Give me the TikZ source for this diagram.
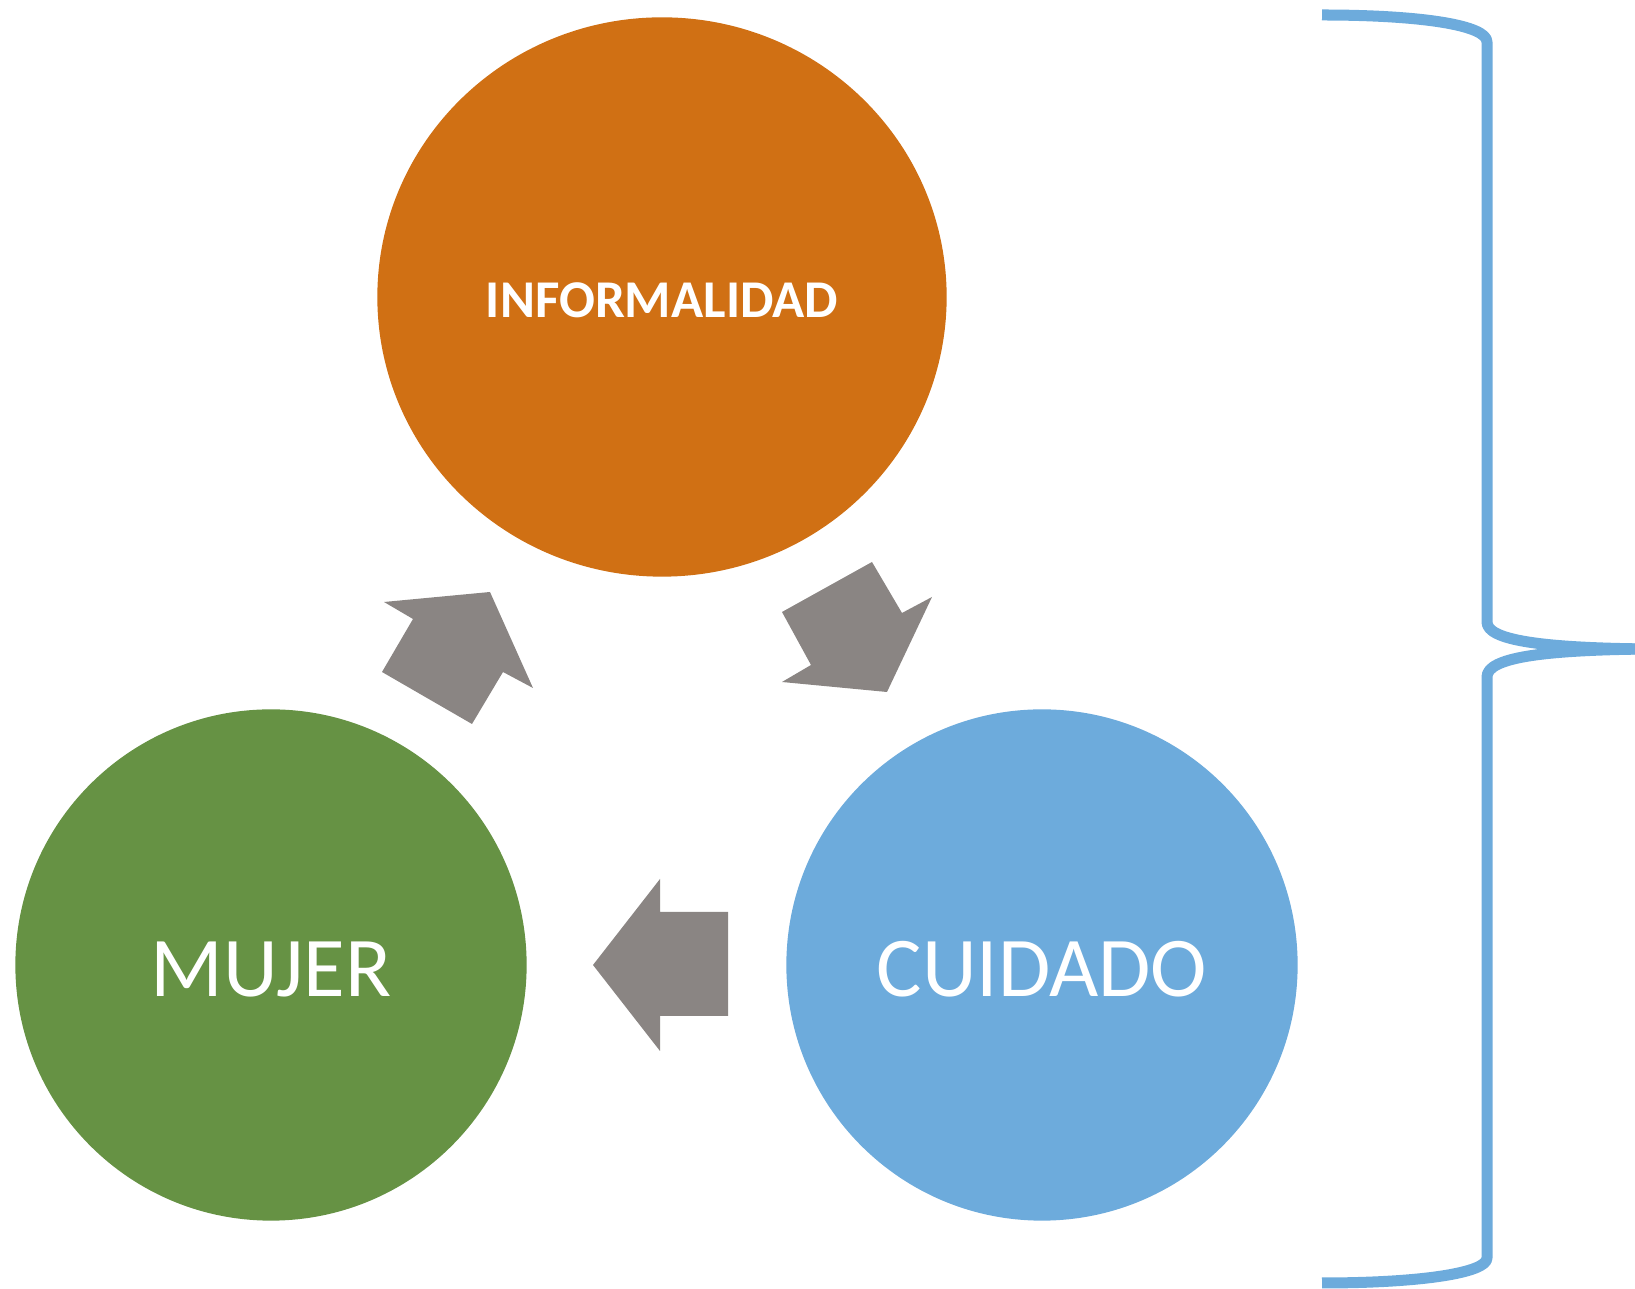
\documentclass[tikz,border=0pt]{standalone}
\usepackage{fontspec}
\setmainfont{Carlito}
\usetikzlibrary{shapes.geometric}
\definecolor{informalcol}{HTML}{D07014}
\definecolor{mujercol}{HTML}{669244}
\definecolor{cuidadocol}{HTML}{6DABDC}
\definecolor{flechacol}{HTML}{8A8583}
\begin{document}
\begin{tikzpicture}[x=0.01cm,y=-0.01cm,
  bola/.style={ellipse,draw=none,inner sep=0pt,text=white,text depth=0pt},
  flecha/.style={fill=flechacol},
  llave/.style={draw=cuidadocol,line width=0.11cm,line join=round}]
\useasboundingbox (0,0) rectangle (1635,1289);
\node[bola,fill=informalcol,minimum width=5.69cm,minimum height=5.59cm,text height=0.40cm,font=\bfseries\fontsize{15.1}{18}\selectfont] (informalidad) at (662,297) {INFORMALIDAD};
\node[bola,fill=mujercol,minimum width=5.11cm,minimum height=5.11cm,text height=0.63cm,font=\fontsize{24.2}{29}\selectfont] (mujer) at (271,965) {MUJER};
\node[bola,fill=cuidadocol,minimum width=5.11cm,minimum height=5.11cm,text height=0.63cm,font=\fontsize{24.2}{29}\selectfont] (cuidado) at (1042,965) {CUIDADO};
\fill[flecha] (384,602) -- (490,592) -- (533,688) -- (503,672) -- (472,724) -- (382,672) -- (413,619) -- cycle;
\fill[flecha] (782,612) -- (872,562) -- (902,613) -- (932,597) -- (887,692) -- (782,682) -- (811,665) -- cycle;
\fill[flecha] (593,965) -- (660,879) -- (660,912) -- (728,912) -- (728,1016) -- (660,1016) -- (660,1051) -- cycle;
\begin{scope}
\clip (0,0) rectangle (1635,1289);
\draw[llave] (1322,15) .. controls (1420,15) and (1487,25) .. (1487,42) -- (1487,622)
  .. controls (1487,640) and (1540,648) .. (1650,649);
\draw[llave] (1650,649) .. controls (1540,650) and (1487,658) .. (1487,677) -- (1487,1258)
  .. controls (1487,1273) and (1420,1283) .. (1322,1283);
\end{scope}
\end{tikzpicture}
\end{document}
